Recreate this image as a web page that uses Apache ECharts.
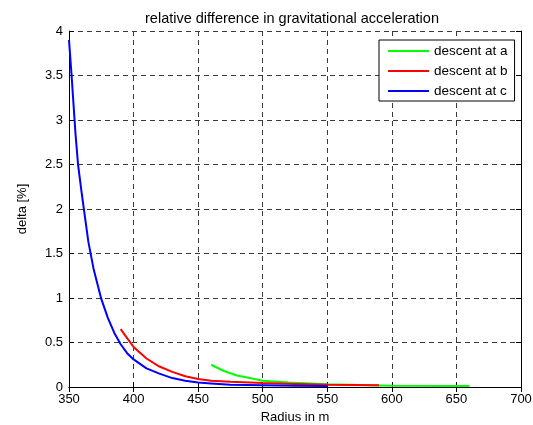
<!DOCTYPE html>
<html>
<head>
<meta charset="utf-8">
<script src="https://cdn.jsdelivr.net/npm/echarts@6/dist/echarts.min.js"></script>
<style>
  html, body { margin: 0; padding: 0; background: #fff; }
  #chart { width: 533px; height: 425px; }
</style>
</head>
<body>
<div id="chart"></div>
<script>
// Relative difference in gravitational acceleration along three descents
const seriesNames = ['descent at a', 'descent at b', 'descent at c'];

const radiusA = [460, 470, 480, 490, 500, 520, 550, 600, 660];
const deltaA  = [0.25, 0.18, 0.13, 0.10, 0.07, 0.05, 0.03, 0.015, 0.01];

const radiusB = [390, 395, 400, 410, 420, 430, 440, 450, 460, 475, 500, 525, 550, 590];
const deltaB  = [0.65, 0.55, 0.45, 0.32, 0.23, 0.17, 0.12, 0.09, 0.07, 0.06, 0.045, 0.035, 0.025, 0.02];

const radiusC = [350, 352, 355, 357, 360, 365, 369, 375, 380, 385, 390, 395, 400, 410, 420, 430, 440, 450, 460, 475, 500, 525, 550];
const deltaC  = [3.9, 3.5, 2.85, 2.5, 2.16, 1.63, 1.33, 0.99, 0.78, 0.61, 0.48, 0.38, 0.31, 0.21, 0.15, 0.10, 0.07, 0.05, 0.04, 0.025, 0.02, 0.015, 0.01];

const xTicks = { min: 350, max: 700, step: 50 };
const yTicks = { min: 0, max: 4, step: 0.5 };

const colors = ['#00ff00', '#ff0000', '#0000ff'];
const FONT = 'Liberation Sans, Arial, Helvetica, sans-serif';

function pairs(xs, ys) { return xs.map((x, i) => [x, ys[i]]); }

const gridLine = { show: true, lineStyle: { color: '#3a3a3a', width: 1, type: [5, 4] } };
const axisLine = { show: true, lineStyle: { color: '#000', width: 1 } };
const tick = { show: true, inside: true, length: 5, lineStyle: { color: '#000' } };

const chart = echarts.init(document.getElementById('chart'), null, { renderer: 'canvas' });
chart.setOption({
  animation: false,
  backgroundColor: '#fff',
  title: {
    text: 'relative difference in gravitational acceleration',
    left: 287, top: 6, textAlign: 'center',
    textStyle: { fontFamily: FONT, fontSize: 14.5, fontWeight: 'normal', color: '#000' }
  },
  grid: { left: 69, right: 12, top: 31, bottom: 38, containLabel: false, outerBoundsMode: 'none' },
  legend: {
    data: seriesNames,
    orient: 'vertical',
    left: 379, top: 40,
    padding: [4, 7, 3, 9],
    icon: 'rect',
    itemWidth: 41, itemHeight: 2, itemGap: 6,
    borderColor: '#000', borderWidth: 1,
    backgroundColor: '#fff',
    textStyle: { fontFamily: FONT, fontSize: 13.5, lineHeight: 14, color: '#000' }
  },
  xAxis: [
    {
      type: 'value', min: xTicks.min, max: xTicks.max, interval: xTicks.step,
      name: 'Radius in m', nameLocation: 'middle', nameGap: 22,
      nameTextStyle: { fontFamily: FONT, fontSize: 13, color: '#000' },
      axisLine, axisTick: tick, splitLine: gridLine,
      axisLabel: { fontFamily: FONT, fontSize: 13, color: '#000', margin: 6 }
    },
    {
      type: 'value', position: 'top', min: xTicks.min, max: xTicks.max, interval: xTicks.step,
      axisLine, axisTick: tick, splitLine: { show: false }, axisLabel: { show: false }
    }
  ],
  yAxis: [
    {
      type: 'value', min: yTicks.min, max: yTicks.max, interval: yTicks.step,
      name: 'delta [%]', nameLocation: 'middle', nameGap: 40, nameRotate: 90,
      nameTextStyle: { fontFamily: FONT, fontSize: 13, color: '#000' },
      axisLine, axisTick: tick, splitLine: gridLine,
      axisLabel: { fontFamily: FONT, fontSize: 13, color: '#000', margin: 6 }
    },
    {
      type: 'value', position: 'right', min: yTicks.min, max: yTicks.max, interval: yTicks.step,
      axisLine, axisTick: tick, splitLine: { show: false }, axisLabel: { show: false }
    }
  ],
  series: [
    { name: seriesNames[0], type: 'line', data: pairs(radiusA, deltaA), symbol: 'none', color: colors[0], lineStyle: { width: 2, color: colors[0] }, z: 3 },
    { name: seriesNames[1], type: 'line', data: pairs(radiusB, deltaB), symbol: 'none', color: colors[1], lineStyle: { width: 2, color: colors[1] }, z: 4 },
    { name: seriesNames[2], type: 'line', data: pairs(radiusC, deltaC), symbol: 'none', color: colors[2], lineStyle: { width: 2, color: colors[2] }, z: 5 }
  ]
});
</script>
</body>
</html>
